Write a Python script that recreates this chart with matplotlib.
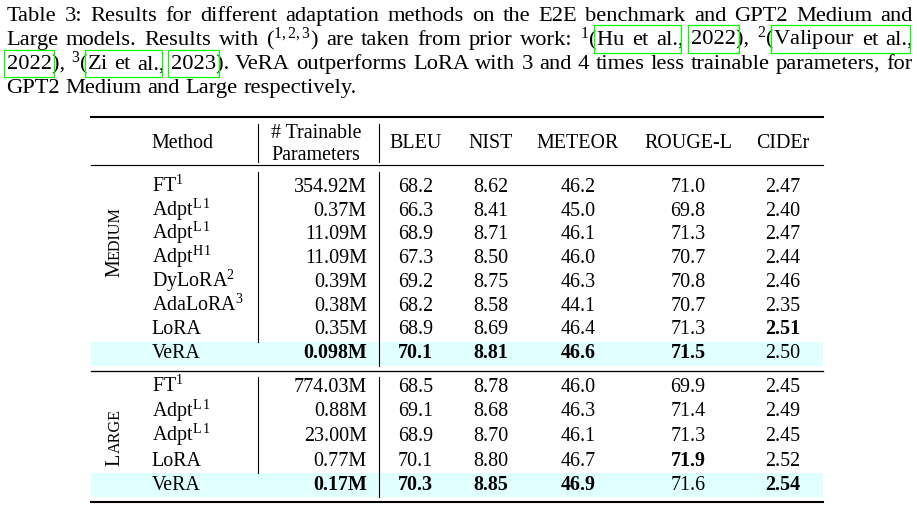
import matplotlib
matplotlib.use('Agg')
import matplotlib.pyplot as plt
from matplotlib.patches import Rectangle

plt.rcParams.update({
    'font.family': ['Liberation Serif', 'DejaVu Serif'],
    'mathtext.fontset': 'custom',
    'mathtext.rm': 'Liberation Serif',
    'mathtext.it': 'Liberation Serif:italic',
    'mathtext.bf': 'Liberation Serif:bold',
})

# ---------------- data ----------------
caption_lines = [
    "Table 3: Results for different adaptation methods on the E2E benchmark and GPT2 Medium and",
    "Large models. Results with ($^{1,2,3}$) are taken from prior work: $^{1}$(Hu et al., 2022), $^{2}$(Valipour et al.,",
    "2022), $^{3}$(Zi et al., 2023). VeRA outperforms LoRA with 3 and 4 times less trainable parameters, for",
    "GPT2 Medium and Large respectively.",
]
# citation link boxes: (line, first token, prefix to skip, last token, boxed text of last token)
citation_boxes = [
    (1, 10, "$^{1}$(", 12, "al."),
    (1, 13, "", 13, "2022"),
    (1, 14, "$^{2}$(", 16, "al."),
    (2, 0, "", 0, "2022"),
    (2, 1, "$^{3}$(", 3, "al."),
    (2, 4, "", 4, "2023"),
]

headers = ["BLEU", "NIST", "METEOR", "ROUGE-L", "CIDEr"]
groups = ["MEDIUM", "LARGE"]

medium_methods = ["FT$^{1}$", r"Adpt$^{\mathrm{L}\,1}$", r"Adpt$^{\mathrm{L}\,1}$", r"Adpt$^{\mathrm{H}\,1}$",
                  "DyLoRA$^{2}$", "AdaLoRA$^{3}$", "LoRA", "VeRA"]
medium_params = ["354.92M", "0.37M", "11.09M", "11.09M", "0.39M", "0.38M", "0.35M", "0.098M"]
medium_bleu = [68.2, 66.3, 68.9, 67.3, 69.2, 68.2, 68.9, 70.1]
medium_nist = [8.62, 8.41, 8.71, 8.50, 8.75, 8.58, 8.69, 8.81]
medium_meteor = [46.2, 45.0, 46.1, 46.0, 46.3, 44.1, 46.4, 46.6]
medium_rouge = [71.0, 69.8, 71.3, 70.7, 70.8, 70.7, 71.3, 71.5]
medium_cider = [2.47, 2.40, 2.47, 2.44, 2.46, 2.35, 2.51, 2.50]
medium_bold = [  # params, bleu, nist, meteor, rouge, cider
    [0, 0, 0, 0, 0, 0], [0, 0, 0, 0, 0, 0], [0, 0, 0, 0, 0, 0], [0, 0, 0, 0, 0, 0],
    [0, 0, 0, 0, 0, 0], [0, 0, 0, 0, 0, 0], [0, 0, 0, 0, 0, 1], [1, 1, 1, 1, 1, 0],
]

large_methods = ["FT$^{1}$", r"Adpt$^{\mathrm{L}\,1}$", r"Adpt$^{\mathrm{L}\,1}$", "LoRA", "VeRA"]
large_params = ["774.03M", "0.88M", "23.00M", "0.77M", "0.17M"]
large_bleu = [68.5, 69.1, 68.9, 70.1, 70.3]
large_nist = [8.78, 8.68, 8.70, 8.80, 8.85]
large_meteor = [46.0, 46.3, 46.1, 46.7, 46.9]
large_rouge = [69.9, 71.4, 71.3, 71.9, 71.6]
large_cider = [2.45, 2.49, 2.45, 2.52, 2.54]
large_bold = [
    [0, 0, 0, 0, 0, 0], [0, 0, 0, 0, 0, 0], [0, 0, 0, 0, 0, 0],
    [0, 0, 0, 0, 1, 0], [1, 1, 1, 1, 0, 1],
]
formats = ["{:.1f}", "{:.2f}", "{:.1f}", "{:.1f}", "{:.2f}"]

# ---------------- layout ----------------
W, H = 917, 521
CAP_FS = 16.2
TAB_FS = 14.4
SC_FS = 11.6
CAP_X0, CAP_X1 = 6.5, 913.0
CAP_BASE0, CAP_PITCH = 20.7, 24.2

RULE_X0, RULE_X1 = 91, 823
TOP_RULE, HEAD_RULE, MID_RULE, BOT_RULE = 116.7, 165.0, 370.7, 501.7
METHOD_X = 151.7
PARAM_RIGHT = 366.7
PARAM_CX = 316.0
COL_CX = [415.5, 491.0, 578.0, 688.0, 783.0]
HEAD_BASE = 148.3
HEAD2_BASES = (137.5, 159.5)
MED_BASE0, MED_PITCH = 191.7, 23.8
LRG_BASE0, LRG_PITCH = 391.7, 24.6
GROUP_X = 119.5
GROUP_CY = [242.0, 437.5]
BANDS = [(342.0, 366.0), (472.7, 496.7)]
V1X, V2X = 258.3, 379.3
V1_SEGS = [(124, 162), (171.7, 342), (376.7, 472.7)]
V2_SEGS = [(124, 162), (171.7, 366), (376.7, 496.7)]
HILITE = '#e0ffff'
LINKC = '#00ff00'

fig = plt.figure(figsize=(W / 100, H / 100), dpi=100)
ax = fig.add_axes([0, 0, 1, 1])
ax.set_xlim(0, W)
ax.set_ylim(H, 0)
ax.axis('off')
renderer = fig.canvas.get_renderer()


def tw(s, size, weight='normal'):
    t = ax.text(0, 0, s, fontsize=size, fontweight=weight)
    w = t.get_window_extent(renderer).width
    t.remove()
    return w


# ---------------- caption ----------------
tok_pos = []
for li, line in enumerate(caption_lines):
    toks = line.split(' ')
    widths = [tw(t, CAP_FS) for t in toks]
    y = CAP_BASE0 + li * CAP_PITCH
    if li < len(caption_lines) - 1:
        gap = (CAP_X1 - CAP_X0 - sum(widths)) / (len(toks) - 1)
    else:
        gap = tw("a b", CAP_FS) - tw("ab", CAP_FS)
    x = CAP_X0
    pos = []
    for t, w in zip(toks, widths):
        ax.text(x, y, t, fontsize=CAP_FS, ha='left', va='baseline', zorder=3)
        pos.append(x)
        x += w + gap
    tok_pos.append(pos)

for li, t0, prefix, t1, content in citation_boxes:
    y = CAP_BASE0 + li * CAP_PITCH
    xa = tok_pos[li][t0] + (tw(prefix, CAP_FS) if prefix else 0) - 2.8
    xb = tok_pos[li][t1] + tw(content, CAP_FS) + 2.8
    ax.add_patch(Rectangle((xa, y - 19.5), xb - xa, 27.5, fill=False,
                           edgecolor=LINKC, lw=0.9, zorder=4))

# ---------------- table rules ----------------
for (y0, y1) in BANDS:
    ax.add_patch(Rectangle((RULE_X0, y0), RULE_X1 - RULE_X0, y1 - y0,
                           facecolor=HILITE, edgecolor='none', zorder=1))
ax.plot([RULE_X0, RULE_X1], [TOP_RULE, TOP_RULE], color='black', lw=1.5, zorder=2)
ax.plot([RULE_X0, RULE_X1], [HEAD_RULE, HEAD_RULE], color='black', lw=0.85, zorder=2)
ax.plot([RULE_X0, RULE_X1], [MID_RULE, MID_RULE], color='black', lw=0.95, zorder=2)
ax.plot([RULE_X0, RULE_X1], [BOT_RULE, BOT_RULE], color='black', lw=1.5, zorder=2)
for y0, y1 in V1_SEGS:
    ax.plot([V1X, V1X], [y0, y1], color='black', lw=0.8, zorder=2)
for y0, y1 in V2_SEGS:
    ax.plot([V2X, V2X], [y0, y1], color='black', lw=0.8, zorder=2)

# ---------------- header ----------------
ax.text(METHOD_X, HEAD_BASE, "Method", fontsize=TAB_FS, ha='left', va='baseline', zorder=3)
ax.text(PARAM_CX, HEAD2_BASES[0], "# Trainable", fontsize=TAB_FS, ha='center', va='baseline', zorder=3)
ax.text(PARAM_CX, HEAD2_BASES[1], "Parameters", fontsize=TAB_FS, ha='center', va='baseline', zorder=3)
for cx, h in zip(COL_CX, headers):
    ax.text(cx, HEAD_BASE, h, fontsize=TAB_FS, ha='center', va='baseline', zorder=3)

# ---------------- body ----------------
sections = [
    (medium_methods, medium_params, [medium_bleu, medium_nist, medium_meteor, medium_rouge, medium_cider],
     medium_bold, MED_BASE0, MED_PITCH),
    (large_methods, large_params, [large_bleu, large_nist, large_meteor, large_rouge, large_cider],
     large_bold, LRG_BASE0, LRG_PITCH),
]
for methods, params, cols, bold, b0, pitch in sections:
    for i, m in enumerate(methods):
        y = b0 + i * pitch
        ax.text(METHOD_X, y, m, fontsize=TAB_FS, ha='left', va='baseline', zorder=3)
        ax.text(PARAM_RIGHT, y, params[i], fontsize=TAB_FS, ha='right', va='baseline',
                fontweight='bold' if bold[i][0] else 'normal', zorder=3)
        for j, (cx, col, fmt) in enumerate(zip(COL_CX, cols, formats)):
            ax.text(cx, y, fmt.format(col[i]), fontsize=TAB_FS, ha='center', va='baseline',
                    fontweight='bold' if bold[i][j + 1] else 'normal', zorder=3)

# ---------------- rotated small-caps group labels ----------------
for g, cy in zip(groups, GROUP_CY):
    w1 = tw(g[0], TAB_FS)
    w2 = tw(g[1:], SC_FS)
    start = cy + (w1 + w2) / 2
    ax.text(GROUP_X, start, g[0], fontsize=TAB_FS, rotation=90, rotation_mode='anchor',
            ha='left', va='baseline', zorder=3)
    ax.text(GROUP_X, start - w1, g[1:], fontsize=SC_FS, rotation=90, rotation_mode='anchor',
            ha='left', va='baseline', zorder=3)

fig.savefig('out.png', dpi=100)
